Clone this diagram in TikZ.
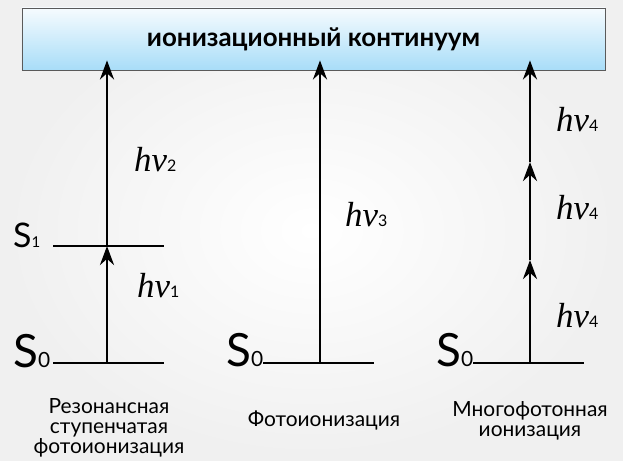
\documentclass[tikz,border=0pt]{standalone}
\usepackage{fontspec}
\setmainfont{Lato}
\newfontfamily\hvfont{Liberation Serif}
\usepackage{tikz}
\usetikzlibrary{arrows.meta,positioning}

\definecolor{contTop}{RGB}{246,251,254}
\definecolor{contBottom}{RGB}{168,221,248}
\definecolor{contEdge}{RGB}{90,90,90}

\newcommand{\hvsub}[1]{{\normalfont\fontsize{16}{16}\selectfont #1}}
\newcommand{\stsub}[2]{{\fontsize{#1}{#1}\selectfont #2}}

\begin{document}
\begin{tikzpicture}[
  x=1bp, y=-1bp,
  levelline/.style={line width=2.6bp},
  photon/.style={line width=2.8bp, -{Stealth[length=19bp,width=14bp]}},
  hvlabel/.style={anchor=base west, inner sep=0pt,
    font=\hvfont\itshape\fontsize{35}{35}\selectfont},
  statelabel/.style={anchor=base west, inner sep=0pt},
  caption/.style={align=center, inner sep=0pt,
    font=\fontsize{21}{20}\selectfont}
]
  \useasboundingbox (0,0) rectangle (623,461);
  \shade[inner color=white, outer color=gray!12] (0,0) rectangle (623,461);

  % continuum box
  \node[
    draw=contEdge,
    line width=0.8bp,
    top color=contTop,
    bottom color=contBottom,
    minimum width=583bp,
    minimum height=62bp,
    inner sep=0pt,
    font=\bfseries\fontsize{26}{26}\selectfont
  ] (cont) at (313.5,39) {ионизационный континуум};

  % resonant step
  \coordinate (a0) at (107,363);
  \coordinate (a1) at (107,246);
  \draw[levelline] ([xshift=-54bp]a0) -- ([xshift=57bp]a0);
  \draw[levelline] ([xshift=-54bp]a1) -- ([xshift=57bp]a1);
  \node[statelabel, font=\fontsize{46}{46}\selectfont] (s0a) at (13,367) {S\stsub{21}{0}};
  \node[statelabel, font=\fontsize{34}{34}\selectfont] (s1a) at (13,248) {S\stsub{15}{1}};
  \draw[photon] (a0) -- (a1);
  \draw[photon] (a1) -- ([yshift=10bp]cont.south -| a1);
  \node[hvlabel] (hv1) at (137,298) {hν\hvsub{1}};
  \node[hvlabel] (hv2) at (134,172) {hν\hvsub{2}};

  % photoionization
  \coordinate (b0) at (320,363);
  \draw[levelline] ([xshift=-57bp]b0) -- ([xshift=54bp]b0);
  \node[statelabel, font=\fontsize{46}{46}\selectfont] (s0b) at (226,366) {S\stsub{21}{0}};
  \draw[photon] (b0) -- ([yshift=10bp]cont.south -| b0);
  \node[hvlabel] (hv3) at (345,227) {hν\hvsub{3}};

  % multiphoton
  \coordinate (c0) at (530,363);
  \coordinate (c1) at (530,260);
  \coordinate (c2) at (530,162);
  \draw[levelline] ([xshift=-57bp]c0) -- ([xshift=54bp]c0);
  \node[statelabel, font=\fontsize{46}{46}\selectfont] (s0c) at (436,366) {S\stsub{21}{0}};
  \draw[photon] (c0) -- (c1);
  \draw[photon] (c1) -- (c2);
  \draw[photon] (c2) -- ([yshift=10bp]cont.south -| c2);
  \node[hvlabel] (hv4a) at (556,327) {hν\hvsub{4}};
  \node[hvlabel] (hv4b) at (556,220) {hν\hvsub{4}};
  \node[hvlabel] (hv4c) at (556,132) {hν\hvsub{4}};

  % captions
  \node[caption] (capa) at (109,428) {Резонансная\\ступенчатая\\фотоионизация};
  \node[caption] (capb) at (324,420) {Фотоионизация};
  \node[caption] (capc) at (530,421) {Многофотонная\\ионизация};
\end{tikzpicture}
\end{document}
